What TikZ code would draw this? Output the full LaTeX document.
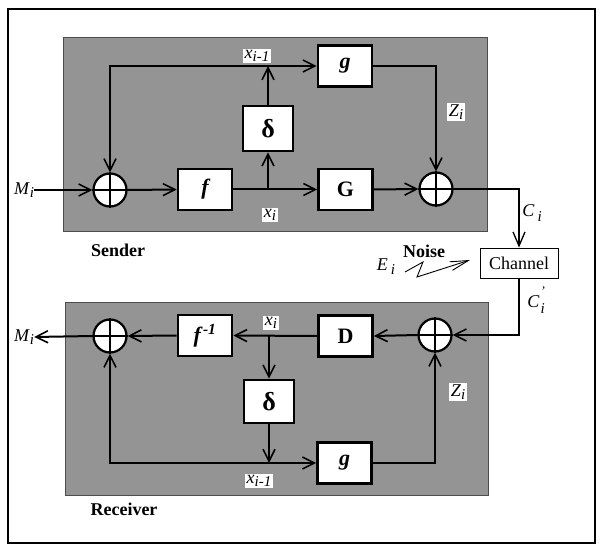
\documentclass[tikz,border=0pt]{standalone}
\usepackage{fontspec}
\setmainfont{Liberation Serif}
\usetikzlibrary{arrows.meta}
\newcommand{\mysub}[2]{\textit{#1}\raisebox{-0.35ex}{\fontsize{15}{15}\selectfont\textit{#2}}}
\begin{document}
\begin{tikzpicture}[x=1pt,y=-1pt,
  font=\fontsize{18}{20}\selectfont,
  panel/.style={fill=black!42, draw=black!70, line width=0.8pt},
  blk/.style={draw, fill=white, line width=2.6pt, minimum width=54pt, minimum height=41pt, inner sep=0pt, font=\fontsize{22}{24}\selectfont\bfseries},
  adder/.style={draw, fill=white, circle, line width=2.2pt, minimum size=33pt, inner sep=0pt},
  conn/.style={line width=2pt},
  outl/.style={line width=1.3pt},
  arr/.style={-{Straight Barb[length=12pt,width=12pt,line width=1.6pt]}},
  lbl/.style={fill=white, inner sep=1.5pt},
  txt/.style={inner sep=0pt},
]
\useasboundingbox (0,0) rectangle (601,545);
% frame
\draw[line width=1.4pt] (8,9) rectangle (595,543);
% panels
\path[panel] (63,37) rectangle (487,231);
\path[panel] (65,302) rectangle (488,495);

% ---------- Sender ----------
\node[adder] (a1) at (110,190) {};
\node[adder] (a2) at (436,189) {};
\node[blk, font=\fontsize{22}{24}\selectfont\bfseries\itshape] (f) at (205,189.5) {f};
\node[blk, minimum width=50pt, minimum height=45pt, font=\fontsize{26}{28}\selectfont\bfseries] (d1) at (268,128.5) {δ};
\node[blk, font=\fontsize{22}{24}\selectfont\bfseries\itshape] (g1) at (345,66) {g};
\node[blk] (G) at (345.5,189.5) {G};
\node[txt] (mi1) at (24,190) {\mysub{M}{i}};

\coordinate (j1) at (d1.south |- f.east);
\coordinate (t1) at (d1.north |- g1.west);
\draw[conn,arr] (mi1.east) -- (a1.west);
\draw[conn,arr] (a1.east) -- (f.west);
\draw[conn,arr] (f.east) -- (G.west);
\draw[conn,arr] (j1) -- (d1.south);
\draw[conn,arr] (d1.north) -- (t1);
\draw[conn,arr] (a1.north |- t1) -- (g1.west);
\draw[conn,arr] (t1) -- (a1.north |- t1) -- (a1.north);
\draw[conn,arr] (g1.east) -- (a2.north |- g1.east) -- (a2.north);
\draw[conn,arr] (G.east) -- (a2.west);
\foreach \a in {a1,a2}{
  \draw[line width=1.6pt] (\a.north) -- (\a.south);
  \draw[line width=1.6pt] (\a.west) -- (\a.east);
}

\node[lbl] (lx1) at (257,56) {\mysub{x}{i-1}};
\node[lbl] (lx2) at (270,215) {\mysub{x}{i}};
\node[lbl] (lz1) at (456,112) {\mysub{Z}{i}};
\node[txt, font=\fontsize{18}{20}\selectfont\bfseries] (snd) at (118,250) {Sender};

% ---------- Channel ----------
\node[draw, fill=white, line width=0.8pt, minimum width=78pt, minimum height=30pt, inner sep=0pt] (ch) at (519,263) {Channel};
\coordinate (c1) at (ch.north |- a2.east);
\draw[outl,-{Straight Barb[length=14pt,width=12pt,line width=1.3pt]}] (a2.east) -- (c1) -- (ch.north);
\node[txt] (lc1) at (532,213) {\textit{C}\,\raisebox{-0.5ex}{\fontsize{15}{15}\selectfont\textit{i}}};
\node[txt, font=\fontsize{18}{20}\selectfont\bfseries] (noise) at (424,251) {Noise};
\node[txt] (ei) at (386,267) {\textit{E}\,\raisebox{-0.5ex}{\fontsize{15}{15}\selectfont\textit{i}}};
\coordinate (z0) at (405,272);
\coordinate (z1) at (423,262);
\coordinate (z2) at (417,277);
\coordinate (z3) at (470,260);
\draw[line width=0.9pt, -{Straight Barb[length=18pt,width=9pt,line width=0.9pt]}] (z0) -- (z1) -- (z2) -- (z3);

% ---------- Receiver ----------
\node[adder] (a3) at (435,335) {};
\node[adder] (a4) at (110,336) {};
\node[blk] (D) at (345.5,336) {D};
\node[blk, font=\fontsize{22}{24}\selectfont\bfseries\itshape] (fi) at (205,335.5) {f\kern2pt\textsuperscript{-1}};
\node[blk, minimum width=50pt, minimum height=43pt, font=\fontsize{26}{28}\selectfont\bfseries] (d2) at (269,401.5) {δ};
\node[blk, font=\fontsize{22}{24}\selectfont\bfseries\itshape] (g2) at (344.5,463) {g};
\node[txt] (mi2) at (24,337) {\mysub{M}{i}};

\coordinate (j2) at (d2.north |- D.west);
\coordinate (b2) at (d2.south |- g2.west);
\draw[outl,-{Straight Barb[length=12pt,width=12pt,line width=1.6pt]}] (ch.south) -- (ch.south |- a3.east) -- (a3.east);
\draw[conn,arr] (a3.west) -- (D.east);
\draw[conn,arr] (D.west) -- (fi.east);
\draw[conn,arr] (j2) -- (d2.north);
\draw[conn,arr] (d2.south) -- (b2);
\draw[conn,arr] (a4.south |- b2) -- (g2.west);
\draw[conn,arr] (b2) -- (a4.south |- b2) -- (a4.south);
\draw[conn,arr] (g2.east) -- (a3.south |- g2.east) -- (a3.south);
\draw[conn,arr] (fi.west) -- (a4.east);
\draw[conn,arr] (a4.west) -- (mi2.east);
\foreach \a in {a3,a4}{
  \draw[line width=1.6pt] (\a.north) -- (\a.south);
  \draw[line width=1.6pt] (\a.west) -- (\a.east);
}

\node[lbl] (lx3) at (271,323) {\mysub{x}{i}};
\node[lbl] (lx4) at (259,481) {\mysub{x}{i-1}};
\node[lbl] (lz2) at (458,392) {\mysub{Z}{i}};
\node[txt] (lc2) at (536,300) {\textit{C}\kern1pt\rlap{\raisebox{1.5ex}{\fontsize{13}{13}\selectfont\textit{'}}}\raisebox{-0.7ex}{\fontsize{15}{15}\selectfont\textit{i}}};
\node[txt, font=\fontsize{18}{20}\selectfont\bfseries] (rcv) at (124,509) {Receiver};
\end{tikzpicture}
\end{document}
